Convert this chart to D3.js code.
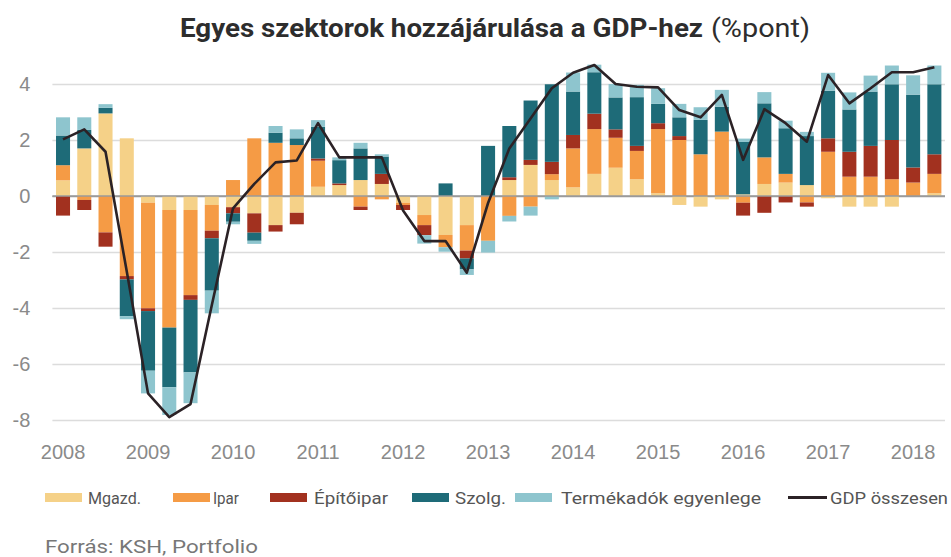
<!DOCTYPE html>
<html>
<head>
<meta charset="utf-8">
<script src="https://cdn.jsdelivr.net/npm/d3@7"></script>
<style>
  body { margin: 0; background: #fff; }
  svg { display: block; font-family: Roboto, "Noto Sans", sans-serif; }
</style>
</head>
<body>
<svg id="chart" width="951" height="557"></svg>
<script>
// negyedéves adatok, 2008 Q1 - 2018 Q2
const years = ['2008', '2009', '2010', '2011', '2012', '2013', '2014', '2015', '2016', '2017', '2018'];
const quarters = [];
years.forEach(y => [1, 2, 3, 4].forEach(q => {
  if (y !== '2018' || q <= 2) quarters.push(y + 'Q' + q);
}));

const mgazd = [0.56, 1.70, 2.95, 2.06, -0.24, -0.50, -0.50, -0.32, -0.40, -0.62, -1.04, -0.60,
  0.33, 0.39, 0.57, 0.43, -0.24, -0.68, -1.39, -1.04, 0, 0.57, 1.11, 0.57,
  0.31, 0.79, 1.01, 0.60, 0.10, -0.32, -0.38, -0.12, 0.06, 0.43, 0.48, 0.39,
  -0.08, -0.38, -0.38, -0.38, 0, 0.10];
const ipar = [0.54, -0.14, -1.30, -2.86, -3.77, -4.20, -3.04, -0.92, 0.57, 2.06, 1.90, 1.82,
  0.93, 0, -0.38, -0.12, -0.08, -0.36, -0.44, -0.91, -1.60, -0.71, -0.38, 0.21,
  1.39, 1.60, 1.07, 1.01, 2.29, 2.00, 1.49, 2.30, -0.24, 0.95, 0.31, -0.23,
  1.58, 0.69, 0.69, 0.60, 0.48, 0.69];
const epit = [-0.70, -0.36, -0.51, -0.12, -0.10, 0, -0.17, -0.27, -0.22, -0.69, -0.23, -0.41,
  0.08, 0.06, -0.12, 0.36, -0.18, -0.36, 0, -0.28, 0, 0.10, 0.18, 0.44,
  0.48, 0.55, 0.30, 0.18, 0.21, 0.14, 0, 0, -0.46, -0.60, -0.23, -0.15,
  0.48, 0.89, 1.10, 1.40, 0.54, 0.70];
const szolg = [1.06, 0.66, 0.20, -1.31, -2.13, -2.13, -2.59, -1.87, -0.30, -0.29, 0.36, 0.24,
  1.13, 0.83, 1.13, 0.62, 0, 0, 0.45, -0.39, 1.79, 1.83, 2.12, 2.77,
  1.55, 1.48, 1.14, 1.74, 0.69, 0.67, 1.23, 0.89, 1.87, 1.93, 1.63, 1.75,
  1.70, 1.51, 1.94, 1.99, 2.60, 2.50];
const termek = [0.65, 0.45, 0.13, -0.11, -0.81, -0.99, -1.10, -0.81, -0.09, -0.11, 0.24, 0.32,
  0.24, 0.10, 0.20, 0.08, 0, -0.30, -0.16, -0.20, -0.42, -0.20, -0.32, -0.12,
  0.68, 0.27, 0.48, 0.44, 0.56, 0.48, 0.45, 0.60, 0.12, 0.40, 0.27, 0.15,
  0.64, 0.61, 0.57, 0.67, 0.69, 0.67];
const gdp = [2.02, 2.38, 1.58, -2.70, -7.05, -7.90, -7.43, -3.90, -0.44, 0.43, 1.20, 1.27,
  2.60, 1.38, 1.38, 1.38, -0.52, -1.61, -1.61, -2.74, -0.25, 1.70, 2.77, 3.85,
  4.40, 4.68, 4.00, 3.90, 3.88, 3.07, 2.81, 3.61, 1.29, 3.10, 2.60, 1.94,
  4.32, 3.31, 3.85, 4.42, 4.42, 4.60];

const yTicks = [-8, -6, -4, -2, 0, 2, 4];

const seriesKeys = ['mgazd', 'ipar', 'epit', 'szolg', 'termek'];
const seriesNames = ['Mgazd.', 'Ipar', 'Építőipar', 'Szolg.', 'Termékadók egyenlege'];
const seriesColors = ['#f5d188', '#f59b45', '#a2311f', '#1e6b78', '#8ec5ce'];
const seriesValues = [mgazd, ipar, epit, szolg, termek];

const rows = quarters.map((q, i) => {
  const row = { q: q };
  seriesKeys.forEach((k, j) => { row[k] = seriesValues[j][i]; });
  return row;
});

const svg = d3.select('#chart');

const x = d3.scaleBand()
  .domain(quarters)
  .range([52.4, 945])
  .paddingInner(0.34)
  .paddingOuter(0.17);

const y = d3.scaleLinear()
  .domain([-8, 4])
  .range([420, 84]);

// rácsvonalak + y tengely
const yAxis = svg.append('g')
  .attr('transform', 'translate(52.4,0)')
  .call(d3.axisLeft(y)
    .tickValues(yTicks)
    .tickFormat(d => String(d))
    .tickSizeInner(-892.6)
    .tickSizeOuter(0)
    .tickPadding(22));
yAxis.select('.domain').remove();
yAxis.selectAll('line')
  .attr('stroke', d => d === 0 ? '#9a9a9a' : '#dcdcdc')
  .attr('stroke-width', 1.6);
yAxis.selectAll('text')
  .attr('fill', '#8a8a8a')
  .attr('font-size', 20);

// oszlopok
const stack = d3.stack()
  .keys(seriesKeys)
  .offset(d3.stackOffsetDiverging);
const layers = stack(rows);

svg.append('g')
  .selectAll('g')
  .data(layers)
  .join('g')
  .attr('fill', (d, i) => seriesColors[i])
  .selectAll('rect')
  .data(d => d)
  .join('rect')
  .attr('x', d => x(d.data.q))
  .attr('width', x.bandwidth())
  .attr('y', d => y(Math.max(d[0], d[1])))
  .attr('height', d => Math.abs(y(d[0]) - y(d[1])));

// nulla vonal a sávok fölött
svg.append('line')
  .attr('x1', 52.4).attr('x2', 945)
  .attr('y1', y(0)).attr('y2', y(0))
  .attr('stroke', '#9a9a9a')
  .attr('stroke-width', 1.6);

// GDP vonal
const line = d3.line()
  .x((d, i) => x(quarters[i]) + x.bandwidth() / 2)
  .y(d => y(d));

svg.append('path')
  .datum(gdp)
  .attr('fill', 'none')
  .attr('stroke', '#2b2226')
  .attr('stroke-width', 2.6)
  .attr('stroke-linejoin', 'round')
  .attr('d', line);

// x tengely
const xAxis = svg.append('g')
  .attr('transform', 'translate(0,420)')
  .call(d3.axisBottom(x)
    .tickValues(quarters.filter(q => q.endsWith('Q1')))
    .tickFormat(d => d.slice(0, 4))
    .tickSize(0)
    .tickPadding(25));
xAxis.select('.domain').remove();
xAxis.selectAll('text')
  .attr('fill', '#8a8a8a')
  .attr('font-size', 20);

// cím
svg.append('text')
  .attr('x', 180).attr('y', 37)
  .attr('font-size', 26)
  .attr('font-weight', 'bold')
  .attr('fill', '#2d2d2d')
  .attr('textLength', 523)
  .attr('lengthAdjust', 'spacingAndGlyphs')
  .text('Egyes szektorok hozzájárulása a GDP-hez');
svg.append('text')
  .attr('x', 711).attr('y', 37)
  .attr('font-size', 26)
  .attr('fill', '#2d2d2d')
  .attr('textLength', 99)
  .attr('lengthAdjust', 'spacingAndGlyphs')
  .text('(%pont)');

// jelmagyarázat
const legendItems = [
  { name: seriesNames[0], color: seriesColors[0], sx: 45, tx: 88, tw: 53 },
  { name: seriesNames[1], color: seriesColors[1], sx: 173, tx: 213, tw: 26 },
  { name: seriesNames[2], color: seriesColors[2], sx: 270, tx: 314, tw: 74 },
  { name: seriesNames[3], color: seriesColors[3], sx: 412, tx: 455, tw: 51 },
  { name: seriesNames[4], color: seriesColors[4], sx: 515, tx: 561, tw: 200 }
];
const legend = svg.append('g');
legendItems.forEach(it => {
  legend.append('rect')
    .attr('x', it.sx).attr('y', 493)
    .attr('width', 37).attr('height', 9)
    .attr('fill', it.color);
  legend.append('text')
    .attr('x', it.tx).attr('y', 504)
    .attr('font-size', 17)
    .attr('fill', '#555')
    .attr('textLength', it.tw)
    .attr('lengthAdjust', 'spacingAndGlyphs')
    .text(it.name);
});
legend.append('line')
  .attr('x1', 788).attr('x2', 827)
  .attr('y1', 497.5).attr('y2', 497.5)
  .attr('stroke', '#2b2226')
  .attr('stroke-width', 3);
legend.append('text')
  .attr('x', 830).attr('y', 504)
  .attr('font-size', 17)
  .attr('fill', '#555')
  .attr('textLength', 118)
  .attr('lengthAdjust', 'spacingAndGlyphs')
  .text('GDP összesen');

svg.append('text')
  .attr('x', 45).attr('y', 553)
  .attr('font-size', 19)
  .attr('fill', '#777')
  .attr('textLength', 213)
  .attr('lengthAdjust', 'spacingAndGlyphs')
  .text('Forrás: KSH, Portfolio');
</script>
</body>
</html>
